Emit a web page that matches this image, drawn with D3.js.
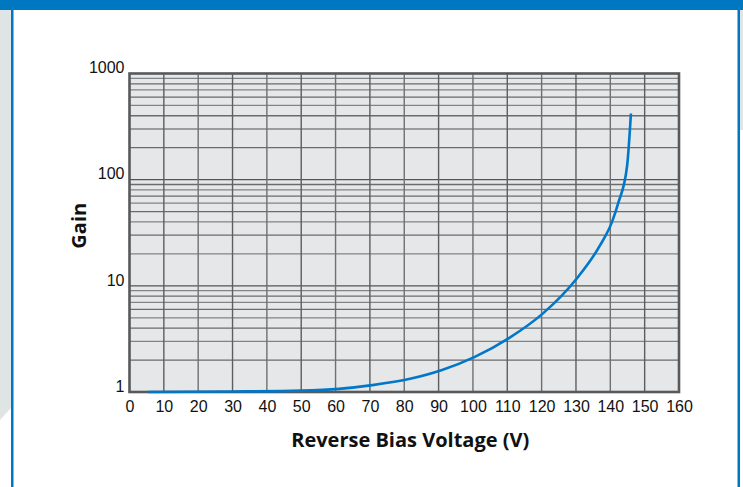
<!DOCTYPE html>
<html><head><meta charset="utf-8">
<script src="https://cdn.jsdelivr.net/npm/d3@7"></script>
<style>html,body{margin:0;padding:0;background:#fff;}svg{display:block;}</style>
</head><body>
<script>
// Data
const voltage = [5.5, 30, 50, 61, 70.7, 81.7, 91, 100.4, 110.5, 120.4, 130.3, 137, 140.5, 142.3, 144.9, 146.0];
const gain    = [1.0, 1.01, 1.03, 1.07, 1.16, 1.33, 1.61, 2.13, 3.22, 5.5, 11.8, 24, 40, 60, 136, 420];
const xTicks = [0,10,20,30,40,50,60,70,80,90,100,110,120,130,140,150,160];
const yTicks = [1,10,100,1000];
const xTitle = "Reverse Bias Voltage (V)";
const yTitle = "Gain";

const W = 743, H = 487;
const svg = d3.select("body").append("svg").attr("width", W).attr("height", H);

// page decorations
svg.append("path").attr("d","M0,0 H11 V408 L0,420 Z").attr("fill","#dfe4e4");
svg.append("rect").attr("x",740).attr("y",0).attr("width",3).attr("height",130).attr("fill","#dfe4e4");
svg.append("rect").attr("x",11).attr("y",0).attr("width",2.5).attr("height",H).attr("fill","#0078c1");
svg.append("rect").attr("x",737.5).attr("y",0).attr("width",2.5).attr("height",H).attr("fill","#0078c1");
svg.append("rect").attr("x",0).attr("y",0).attr("width",W).attr("height",10).attr("fill","#0078c1");

const L = 129.5, R = 679, T = 73.5, B = 392;
const x = d3.scaleLinear().domain([0,160]).range([L,R]);
const y = d3.scaleLog().domain([1,1000]).range([B,T]);

svg.append("rect").attr("x",L).attr("y",T).attr("width",R-L).attr("height",B-T).attr("fill","#e6e7e8");

const gridColor = "#5d5e60";
const yGrid = [];
for (let d = 1; d < 1000; d *= 10) for (let k = 1; k < 10; k++) yGrid.push(d*k);
svg.append("g").selectAll("line").data(yGrid).join("line")
  .attr("x1",L).attr("x2",R)
  .attr("y1",d=>y(d)).attr("y2",d=>y(d))
  .attr("stroke", (d,i)=> i%9===0 ? "#555" : (i%2 ? "#6a6b6d" : "#828385"))
  .attr("stroke-width",1.3);
svg.append("g").selectAll("line").data(xTicks.slice(1,-1)).join("line")
  .attr("x1",d=>x(d)).attr("x2",d=>x(d)).attr("y1",T).attr("y2",B)
  .attr("stroke",(d,i)=> i%2 ? "#6f7072" : gridColor).attr("stroke-width",1.4);

svg.append("rect").attr("x",L).attr("y",T).attr("width",R-L).attr("height",B-T)
  .attr("fill","none").attr("stroke","#58595b").attr("stroke-width",2.6);

const pts = voltage.map((v,i)=>[v,gain[i]]);
svg.append("path").datum(pts)
  .attr("d", d3.line().x(d=>x(d[0])).y(d=>y(d[1])).curve(d3.curveMonotoneX))
  .attr("fill","none").attr("stroke","#0077c8").attr("stroke-width",2.6);

const lblFont = "'Liberation Sans',Arial,sans-serif";
const xAxis = d3.axisBottom(x).tickValues(xTicks).tickSize(0).tickPadding(9).tickFormat(d3.format("d"));
const gx = svg.append("g").attr("transform",`translate(0,${B})`).call(xAxis);
gx.select(".domain").remove();
gx.selectAll("text").style("font-family",lblFont).style("font-size","16px").style("fill","#111");

const yAxis = d3.axisLeft(y).tickValues(yTicks).tickSize(0).tickPadding(5).tickFormat(d3.format("d"));
const gy = svg.append("g").attr("transform",`translate(${L},0)`).call(yAxis);
gy.select(".domain").remove();
gy.selectAll("text").style("font-family",lblFont).style("font-size","16px").style("fill","#111").attr("dy","-0.05em");

svg.append("text").attr("x",(L+R)/2+6).attr("y",447).attr("text-anchor","middle")
  .style("font-family","'Open Sans',sans-serif").style("font-weight","bold").style("font-size","20px").style("fill","#111")
  .text(xTitle);
svg.append("text").attr("transform",`translate(86,${(T+B)/2-7}) rotate(-90)`).attr("text-anchor","middle")
  .style("font-family","'Open Sans',sans-serif").style("font-weight","bold").style("font-size","20px").style("fill","#111")
  .text(yTitle);
</script>
</body></html>
